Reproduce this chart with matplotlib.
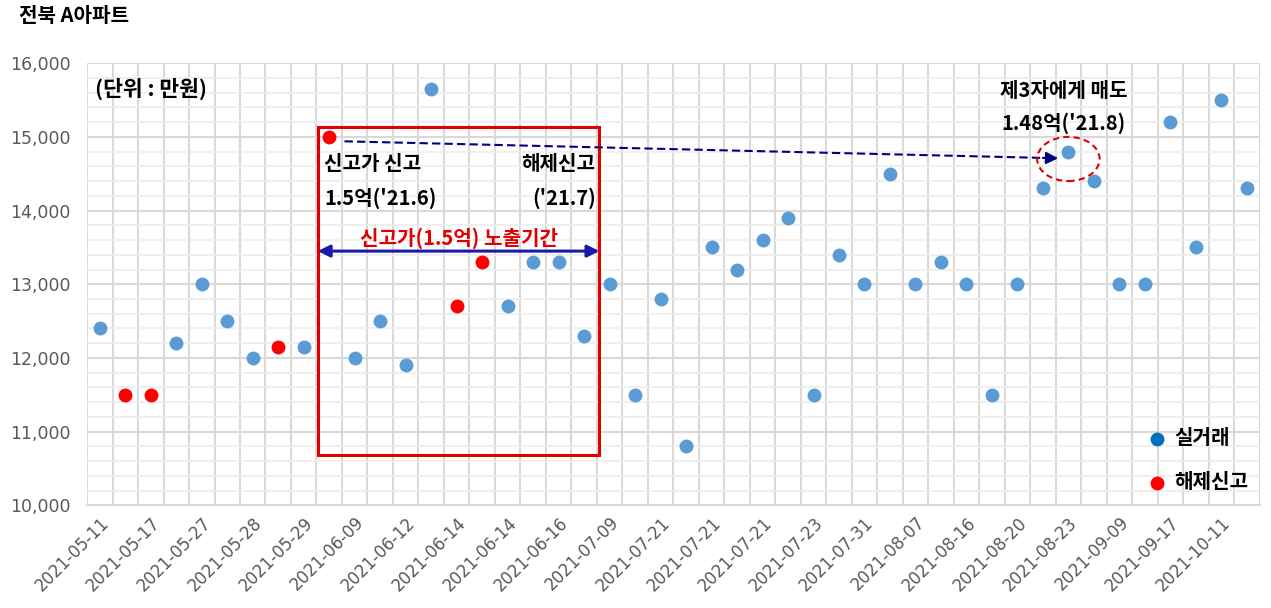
#!/usr/bin/env python3

import matplotlib
matplotlib.use('Agg')
import matplotlib.pyplot as plt
from matplotlib.patches import Rectangle, Ellipse
from matplotlib.ticker import MultipleLocator, FuncFormatter

plt.rcParams['font.family'] = ['Noto Sans CJK KR', 'DejaVu Sans']

# 거래 가격 (만원), 순서대로
prices = [12400, 11500, 11500, 12200, 13000, 12500, 12000, 12150, 12150, 15000,
          12000, 12500, 11900, 15650, 12700, 13300, 12700, 13300, 13300, 12300,
          13000, 11500, 12800, 10800, 13500, 13200, 13600, 13900, 11500, 13400,
          13000, 14500, 13000, 13300, 13000, 11500, 13000, 14300, 14800, 14400,
          13000, 13000, 15200, 13500, 15500, 14300]

# 해제신고 여부 (True = 해제신고)
cancelled = [False, True, True, False, False, False, False, True, False, True,
             False, False, False, False, True, True, False, False, False, False,
             False, False, False, False, False, False, False, False, False, False,
             False, False, False, False, False, False, False, False, False, False,
             False, False, False, False, False, False]

# 두 칸마다 표시되는 날짜 라벨
tick_labels = ['2021-05-11', '2021-05-17', '2021-05-27', '2021-05-28', '2021-05-29',
               '2021-06-09', '2021-06-12', '2021-06-14', '2021-06-14', '2021-06-16',
               '2021-07-09', '2021-07-21', '2021-07-21', '2021-07-21', '2021-07-23',
               '2021-07-31', '2021-08-07', '2021-08-16', '2021-08-20', '2021-08-23',
               '2021-09-09', '2021-09-17', '2021-10-11']

BLUE = '#5B9BD5'
RED = '#FF0000'
FS = 14.5


def main():
    fig = plt.figure(figsize=(12.71, 6.08), dpi=100)
    ax = fig.add_axes([0.0685, 0.169, 0.9225, 0.727])

    idx = list(range(len(prices)))
    real_x = [i for i in idx if not cancelled[i]]
    real_y = [prices[i] for i in real_x]
    canc_x = [i for i in idx if cancelled[i]]
    canc_y = [prices[i] for i in canc_x]

    ax.scatter(real_x, real_y, s=100, color=BLUE, zorder=3, linewidths=0)
    ax.scatter(canc_x, canc_y, s=100, color=RED, zorder=3, linewidths=0)

    ax.set_xlim(-0.5, len(prices) - 0.5)
    ax.set_ylim(10000, 16000)

    # grid
    ax.set_xticks(list(range(0, len(prices), 2)))
    ax.set_xticklabels(tick_labels, rotation=45, ha='right', rotation_mode='anchor',
                       fontsize=12, color='#595959', family='DejaVu Sans')
    ax.set_xticks([i - 0.5 for i in range(len(prices) + 1)], minor=True)
    ax.yaxis.set_major_locator(MultipleLocator(1000))
    ax.yaxis.set_minor_locator(MultipleLocator(200))
    ax.yaxis.set_major_formatter(FuncFormatter(lambda v, p: f'{int(v):,}'))
    ax.tick_params(axis='y', labelsize=12.5, labelcolor='#595959', length=0, pad=12)
    for t in ax.get_yticklabels():
        t.set_family('DejaVu Sans')
    ax.tick_params(axis='x', length=0, pad=6)
    ax.tick_params(which='minor', length=0)
    ax.grid(False)
    ax.xaxis.grid(True, which='minor', color='#D9D9D9', lw=1.5)
    ax.yaxis.grid(True, which='minor', color='#EDEDED', lw=1.2)
    ax.yaxis.grid(True, which='major', color='#D9D9D9', lw=1.5)
    ax.set_axisbelow(True)
    for sp in ax.spines.values():
        sp.set_visible(False)
    ax.spines['bottom'].set_visible(True)
    ax.spines['bottom'].set_color('#D9D9D9')
    ax.spines['bottom'].set_linewidth(1.5)

    # 신고가 노출기간 박스
    ax.add_patch(Rectangle((8.55, 10680), 19.6 - 8.55, 15130 - 10680, fill=False,
                           edgecolor='#E00000', lw=2.2, zorder=4))
    ax.annotate('', xy=(19.6, 13450), xytext=(8.55, 13450),
                arrowprops=dict(arrowstyle='<|-|>', color='#1A1AAA', lw=2.2,
                                mutation_scale=18, shrinkA=0, shrinkB=0), zorder=5)
    ax.text(14.1, 13625, '신고가(1.5억) 노출기간', color='#E00000', fontsize=FS,
            fontweight='bold', ha='center', va='center')

    ax.text(8.8, 14640, '신고가 신고', fontsize=FS, fontweight='bold', ha='left', va='center')
    ax.text(8.8, 14165, "1.5억('21.6)", fontsize=FS, fontweight='bold', ha='left', va='center')
    ax.text(19.45, 14640, '해제신고', fontsize=FS, fontweight='bold', ha='right', va='center')
    ax.text(19.45, 14165, "('21.7)", fontsize=FS, fontweight='bold', ha='right', va='center')

    # 제3자 매도
    ax.plot([9.6, 37.0], [14940, 14715], color='#000080', lw=1.5, ls=(0, (4, 2)), zorder=4)
    ax.annotate('', xy=(37.6, 14710), xytext=(37.0, 14715),
                arrowprops=dict(arrowstyle='-|>', color='#000080', lw=1.5,
                                mutation_scale=18, shrinkA=0, shrinkB=0), zorder=5)
    ax.add_patch(Ellipse((38.0, 14700), 2.45, 600, fill=False, edgecolor='#E00000',
                         lw=1.5, ls=(0, (3, 2)), zorder=4))
    ax.text(37.8, 15635, '제3자에게 매도', fontsize=FS, fontweight='bold', ha='center', va='center')
    ax.text(37.8, 15185, "1.48억('21.8)", fontsize=FS, fontweight='bold', ha='center', va='center')

    ax.text(0.007, 0.943, '(단위 : 만원)', transform=ax.transAxes, fontsize=15.5,
            fontweight='bold', ha='left', va='center')

    # legend
    h1 = ax.scatter([], [], s=100, color='#0070C0', linewidths=0)
    h2 = ax.scatter([], [], s=100, color=RED, linewidths=0)
    leg = ax.legend([h1, h2], ['실거래', '해제신고'], loc='lower left',
                    bbox_to_anchor=(0.884, -0.012), frameon=False, fontsize=FS,
                    labelspacing=1.15, handletextpad=0.1, handlelength=1.5)
    for t in leg.get_texts():
        t.set_fontweight('bold')

    fig.text(0.015, 0.974, '전북 A아파트', fontsize=14.5, fontweight='bold', ha='left', va='center')

    fig.savefig('out.png', dpi=100)


if __name__ == '__main__':
    main()
